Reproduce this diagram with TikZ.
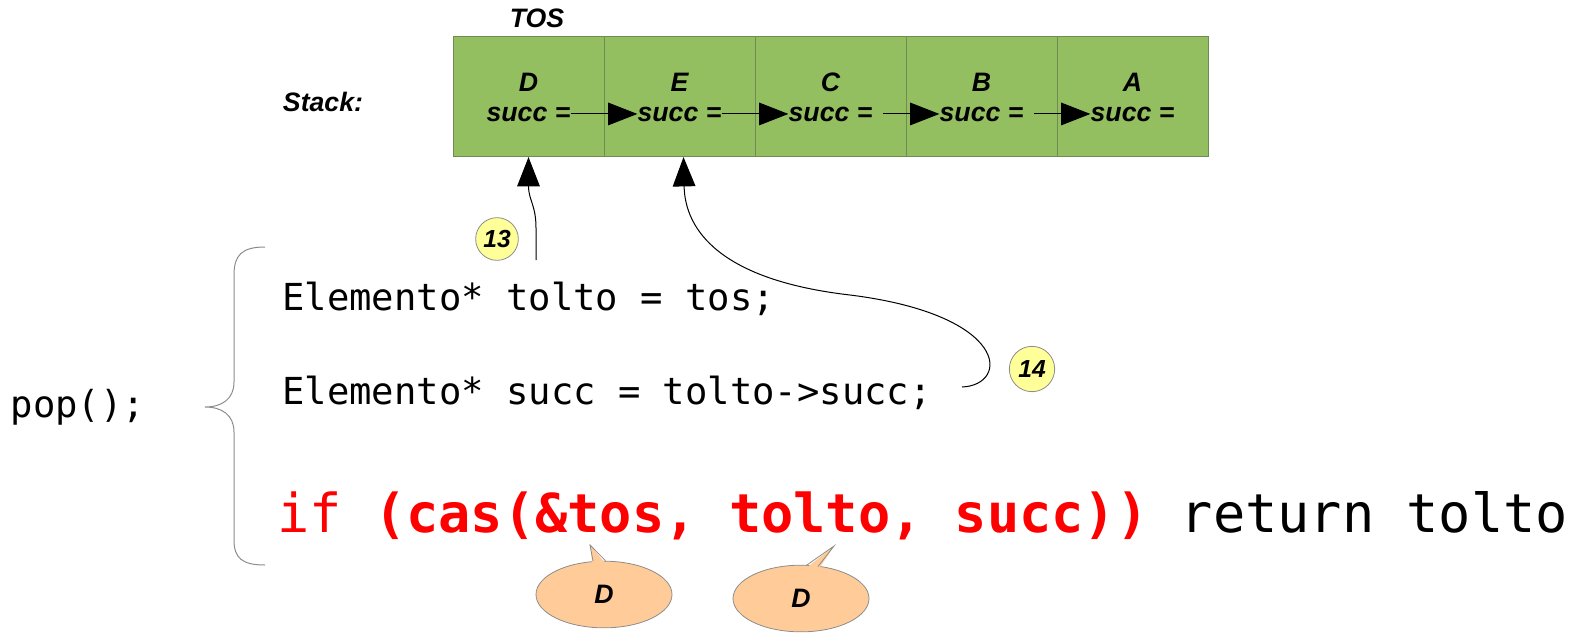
\documentclass[tikz,border=0pt]{standalone}
\usepackage{fontspec}
\usetikzlibrary{arrows.meta,shapes.geometric}
\newfontfamily\labfont{Liberation Sans}
\newfontfamily\codefont{DejaVu Sans Mono}
\definecolor{cellgreen}{RGB}{147,191,96}
\definecolor{cellborder}{RGB}{112,140,84}
\definecolor{notefill}{RGB}{255,255,153}
\definecolor{bubblefill}{RGB}{255,204,153}
\definecolor{edgegray}{RGB}{140,140,140}
\definecolor{codered}{RGB}{255,0,0}

\begin{document}
\begin{tikzpicture}[x=0.75pt,y=-0.75pt,
  lab/.style={font=\labfont\bfseries\itshape\fontsize{20}{23}\selectfont, inner sep=0pt},
  cell/.style={draw=cellborder, fill=cellgreen, line width=0.75pt,
    minimum width=113.25pt, minimum height=90.4pt, inner sep=0pt},
  ptr/.style={-{Triangle[length=22pt,width=17pt]}, line width=0.75pt},
  badge/.style={circle, draw=edgegray, fill=notefill, line width=0.6pt,
    minimum size=32pt, inner sep=0pt,
    font=\labfont\bfseries\itshape\fontsize{18.5}{20}\selectfont},
  bubble/.style={ellipse, draw=edgegray, fill=bubblefill, line width=0.6pt,
    minimum width=102pt, minimum height=50pt, inner sep=0pt,
    font=\labfont\bfseries\itshape\fontsize{20}{23}\selectfont},
  code/.style={font=\codefont\fontsize{27.9}{32}\selectfont, inner sep=0pt, anchor=base west},
  bigcode/.style={font=\codefont\fontsize{40.2}{46}\selectfont, inner sep=0pt, anchor=base west},
  ]
\useasboundingbox (0,0) rectangle (1583,632);

% the stack cells
\node[cell] (cD) at (528.5,96.3) {};
\node[cell] (cE) at (679.5,96.3) {};
\node[cell] (cC) at (830.5,96.3) {};
\node[cell] (cB) at (981.5,96.3) {};
\node[cell] (cA) at (1132.5,96.3) {};

\node[lab] (tos) at (537,18) {TOS};
\node[lab] (stk) at (323,102) {Stack:};

% element names and successor fields
\foreach \n/\x in {D/528.5,E/679.5,C/830.5,B/981.5,A/1132.5}{
  \node[lab, anchor=base] (n\n) at (\x,91) {\n};
  \node[lab, anchor=base] (s\n) at (\x,121) {succ =};
}
\draw[ptr] (sD.east) -- (sE.west);
\draw[ptr] (sE.east) -- (sC.west);
\draw[ptr, shorten <=8pt] (sC.east) -- (sB.west);
\draw[ptr, shorten <=8pt] (sB.east) -- (sA.west);

% numbered steps
\node[badge] (n13) at (497,239) {13};
\node[badge, minimum size=34pt] (n14) at (1032,369) {14};

\coordinate (p13) at (536,260);
\coordinate (p14) at (962,387);
\draw[ptr] (p13) -- (536,228) .. controls (536,205) and (528.5,200) .. (cD.south);
\draw[ptr] (p14) .. controls (1010,385) and (1010,315) .. (850,295)
               .. controls (720,280) and (685,230) .. ([xshift=3pt]cE.south);

% the body of pop()
\node[code] (pop) at (10.5,417) {pop();};
\draw[edgegray, line width=0.75pt]
  (265,247) .. controls (242,247) and (234,255) .. (234,275) -- (234,382)
  .. controls (234,399) and (222,407) .. (205,407)
  .. controls (222,407) and (234,415) .. (234,432) -- (234,540)
  .. controls (234,558) and (242,565) .. (265,565);

\node[code] (l1) at (282,310) {Elemento* tolto = tos;};
\node[code] (l2) at (282,404) {Elemento* succ = tolto->succ;};
\node[bigcode] (l3) at (277,532) {\textcolor{codered}{if }\textcolor{codered}{\bfseries(cas(\&tos, tolto, succ))} return tolto};

% speech bubbles
\node[bubble] (b1) at (604,594.5) {D};
\fill[bubblefill] (592.5,564) -- (590,545) -- (606,564) -- cycle;
\draw[edgegray, line width=0.6pt] (593,561) -- (590,545) -- (605.5,560.7);

\node[bubble] (b2) at (801,598.5) {D};
\fill[bubblefill] (805.5,568.5) -- (834,546) -- (818.5,569.5) -- cycle;
\draw[edgegray, line width=0.6pt] (806,565.6) -- (834,546) -- (818,566.5);
\end{tikzpicture}
\end{document}
